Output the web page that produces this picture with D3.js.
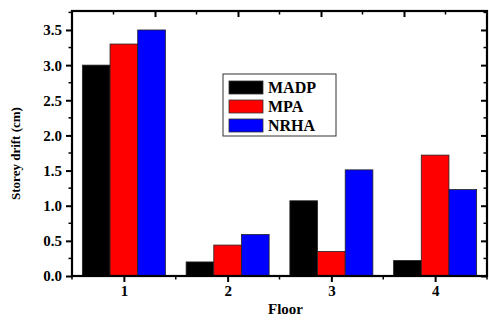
<!DOCTYPE html>
<meta charset="utf-8">
<script src="https://d3js.org/d3.v7.min.js"></script>
<style>
  body { margin: 0; background: #fff; }
  svg text { font-family: "Liberation Serif", "Times New Roman", serif !important; font-weight: bold; }
</style>
<div id="chart"></div>
<script>
// data
var floors = ["1", "2", "3", "4"];
var series = ["MADP", "MPA", "NRHA"];
var colors = ["#000000", "#ff0000", "#0000ff"];
var madp = [3.0, 0.2, 1.07, 0.22];
var mpa = [3.3, 0.44, 0.35, 1.72];
var nrha = [3.5, 0.59, 1.51, 1.23];
var yTicks = [0, 0.5, 1.0, 1.5, 2.0, 2.5, 3.0, 3.5];

var values = [madp, mpa, nrha];

var W = 489, H = 320;
var margin = {top: 11, right: 2, bottom: 44, left: 72},
    width = W - margin.left - margin.right,
    height = H - margin.top - margin.bottom;

var svg = d3.select("#chart").append("svg")
    .attr("width", W).attr("height", H)
  .append("g")
    .attr("transform", "translate(" + margin.left + "," + margin.top + ")");

var x = d3.scaleLinear().domain([0.5, 4.5]).range([0, width]);
var y = d3.scaleLinear().domain([0, 3.77]).range([height, 0]);
var xTop = d3.scaleLinear().domain([0, 10]).range([0, width]);

var groupW = (x(2) - x(1)) * 0.8;
var barW = groupW / series.length;

// bars
series.forEach(function(s, si) {
  svg.selectAll(".bar" + si)
    .data(values[si])
    .enter().append("rect")
      .attr("x", function(d, i) { return x(i + 1) - groupW / 2 + si * barW; })
      .attr("y", function(d) { return y(d); })
      .attr("width", barW)
      .attr("height", function(d) { return height - y(d); })
      .attr("fill", colors[si])
      .attr("stroke", "#222")
      .attr("stroke-width", 0.8);
});

// minor tick helper
function minor(g, pts, fn) {
  g.selectAll(null).data(pts).enter().append("line")
    .attr("stroke", "#000").attr("stroke-width", 1.5)
    .each(fn);
}

// left axis
var yAxis = svg.append("g")
  .call(d3.axisLeft(y).tickValues(yTicks).tickFormat(d3.format(".1f")).tickSize(6).tickPadding(4));
yAxis.select(".domain").remove();
yAxis.selectAll(".tick line").attr("stroke-width", 2);
yAxis.selectAll("text").style("font-size", "15px").attr("dy", "0.33em");
var yMinor = d3.range(0.25, 3.77, 0.5);
minor(yAxis, yMinor, function(d) {
  d3.select(this).attr("x1", -3.5).attr("x2", 0).attr("y1", y(d)).attr("y2", y(d));
});

// right axis (ticks inward)
var yRight = svg.append("g").attr("transform", "translate(" + width + ",0)")
  .call(d3.axisRight(y).tickValues(yTicks).tickSize(-6).tickFormat(""));
yRight.select(".domain").remove();
yRight.selectAll(".tick line").attr("stroke-width", 2);
minor(yRight, yMinor, function(d) {
  d3.select(this).attr("x1", -3.5).attr("x2", 0).attr("y1", y(d)).attr("y2", y(d));
});

// bottom axis
var xAxis = svg.append("g").attr("transform", "translate(0," + height + ")")
  .call(d3.axisBottom(x).tickValues([1, 2, 3, 4]).tickFormat(function(d) { return floors[d - 1]; }).tickSize(6).tickPadding(3));
xAxis.select(".domain").remove();
xAxis.selectAll(".tick line").attr("stroke-width", 2);
xAxis.selectAll("text").style("font-size", "15px");
minor(xAxis, [0.5, 1.5, 2.5, 3.5, 4.5], function(d) {
  d3.select(this).attr("x1", x(d)).attr("x2", x(d)).attr("y1", 0).attr("y2", 3.5);
});

// top axis (ticks inward)
var xT = svg.append("g")
  .call(d3.axisTop(xTop).tickValues([2, 4, 6, 8]).tickSize(-6).tickFormat(""));
xT.select(".domain").remove();
xT.selectAll(".tick line").attr("stroke-width", 2);
minor(xT, [1, 3, 5, 7, 9], function(d) {
  d3.select(this).attr("x1", xTop(d)).attr("x2", xTop(d)).attr("y1", 0).attr("y2", 3.5);
});

// frame
svg.append("rect")
  .attr("width", width).attr("height", height)
  .attr("fill", "none").attr("stroke", "#000").attr("stroke-width", 2.2);

// axis titles
svg.append("text")
  .attr("text-anchor", "middle")
  .attr("x", width / 2 + 6).attr("y", height + 38)
  .style("font-size", "15px")
  .text("Floor");

svg.append("text")
  .attr("text-anchor", "middle")
  .attr("transform", "translate(" + (-52) + "," + (height / 2 + 10) + ") rotate(-90)")
  .style("font-size", "13px")
  .text("Storey drift (cm)");

// legend
var lg = svg.append("g").attr("transform", "translate(" + (223 - margin.left) + "," + (74 - margin.top) + ")");
lg.append("rect")
  .attr("width", 113).attr("height", 62)
  .attr("fill", "#fff").attr("stroke", "#333").attr("stroke-width", 1);
series.forEach(function(s, i) {
  var row = lg.append("g").attr("transform", "translate(6," + (7 + i * 19) + ")");
  row.append("rect").attr("width", 34).attr("height", 13)
    .attr("fill", colors[i]).attr("stroke", "#333").attr("stroke-width", 0.8);
  row.append("text").attr("x", 39).attr("y", 12)
    .style("font-size", "16px").text(s);
});
</script>
